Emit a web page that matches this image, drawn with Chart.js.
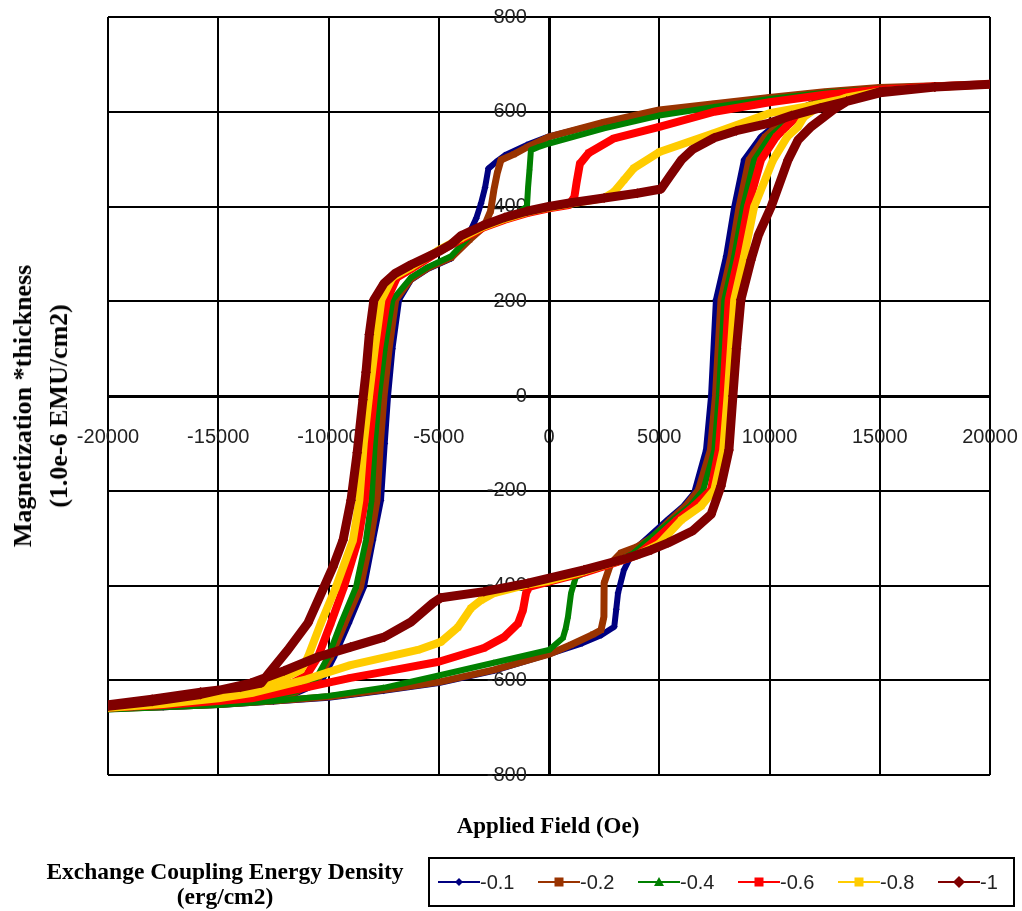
<!DOCTYPE html>
<html>
<head>
<meta charset="utf-8">
<script src="https://cdn.jsdelivr.net/npm/chart.js@4.4.1/dist/chart.umd.min.js"></script>
<style>
    body { margin: 0; background: #fff; }
    #holder { position: relative; width: 1022px; height: 911px; }
    #chart { position: absolute; left: 0; top: 0; }
    .title { position: absolute; font-family: 'Liberation Serif', 'Times New Roman', serif; font-weight: bold; color: #000; white-space: nowrap; text-align: center; }
    #xTitle { left: 548px; top: 826px; font-size: 23px; transform: translate(-50%, -50%); }
    #yTitle { left: 41px; top: 406px; font-size: 26px; line-height: 36px; transform: translate(-50%, -50%) rotate(-90deg); }
    #legendTitle { left: 225px; top: 884px; font-size: 23.5px; line-height: 25px; transform: translate(-50%, -50%); }
    #legendBox { position: absolute; left: 428px; top: 857px; width: 575px; height: 46px; border: 2px solid #000; display: flex; align-items: center; padding-left: 8px; box-sizing: content-box; }
    .entry { display: flex; align-items: center; width: 100px; font-family: 'Liberation Sans', Arial, sans-serif; font-size: 20px; color: #222; }
</style>
</head>
<body>
<div id="holder">
    <canvas id="chart" width="1022" height="911"></canvas>
    <div class="title" id="xTitle">Applied Field (Oe)</div>
    <div class="title" id="yTitle">Magnetization *thickness<br>(1.0e-6 EMU/cm2)</div>
    <div class="title" id="legendTitle">Exchange Coupling Energy Density<br>(erg/cm2)</div>
    <div id="legendBox"></div>
</div>
<script>
const seriesLabels = ['-0.1', '-0.2', '-0.4', '-0.6', '-0.8', '-1']

// each loop: field sweep down from +20000, then back up from -20000
const fieldLoop01 = [20000, 17500, 15000, 12500, 10000, 7500, 5000, 2500, 0, -1000, -2000, -2400, -2750, -2900, -3080, -3300, -3700, -4440, -5500, -6260, -6800, -7100, -7300, -7450, -7620, -7980, -8390, -9070, -9750, -10340, -11500, -13000, -15000, -17500, -20000,
    -20000, -17500, -15000, -12500, -10000, -7500, -5000, -2500, 0, 1500, 2360, 2960, 3050, 3130, 3400, 3850, 4500, 5400, 6100, 6580, 7120, 7350, 7570, 8030, 8400, 8840, 9610, 10160, 11000, 12500, 15000, 17500, 20000]
const momentLoop01 = [658, 655, 650, 641, 628, 614, 600, 577, 548, 530, 508, 494, 480, 440, 407, 375, 335, 290, 268, 245, 203, 100, 0, -100, -220, -304, -403, -479, -551, -604, -628, -642, -650, -655, -659,
    -660, -657, -652, -645, -637, -622, -606, -580, -545, -522, -505, -487, -450, -416, -367, -325, -298, -260, -232, -205, -114, 0, 203, 295, 399, 498, 547, 568, 600, 628, 648, 655, 658]

const fieldLoop02 = [20000, 17500, 15000, 12500, 10000, 7500, 5000, 2500, 0, -1000, -1600, -2180, -2350, -2500, -2650, -2950, -3600, -4440, -5500, -6260, -6950, -7250, -7480, -7650, -7800, -8100, -8550, -9250, -9900, -10500, -11500, -13000, -15000, -17500, -20000,
    -20000, -17500, -15000, -12500, -10000, -7500, -5000, -2500, 0, 1000, 2000, 2360, 2490, 2500, 2810, 3270, 4000, 4700, 5500, 6200, 6780, 7320, 7550, 7800, 8250, 8620, 9070, 9800, 10300, 11100, 12500, 15000, 17500, 20000]
const momentLoop02 = [658, 655, 651, 642, 630, 617, 604, 578, 547, 525, 510, 498, 470, 435, 390, 357, 330, 292, 270, 247, 203, 100, 0, -100, -220, -304, -403, -479, -551, -600, -625, -640, -649, -654, -658,
    -660, -656, -651, -644, -635, -620, -604, -578, -545, -525, -503, -494, -466, -395, -353, -331, -318, -298, -262, -232, -198, -114, 0, 203, 295, 399, 498, 547, 568, 600, 628, 648, 655, 658]

const fieldLoop04 = [20000, 17500, 15000, 12500, 10000, 7500, 5000, 2500, 0, -500, -820, -880, -950, -1000, -1500, -2500, -3500, -4440, -5500, -6260, -7100, -7450, -7710, -7900, -8050, -8300, -8750, -9430, -10020, -10600, -11500, -13000, -15000, -17500, -20000,
    -20000, -17500, -15000, -12500, -10000, -7500, -5000, -2500, 0, 630, 760, 860, 1000, 1220, 1800, 2800, 3800, 4600, 5600, 6400, 7000, 7500, 7700, 7950, 8400, 8800, 9300, 10000, 10520, 11300, 12700, 15000, 17500, 20000]
const momentLoop04 = [658, 654, 649, 640, 627, 610, 592, 565, 533, 525, 519, 480, 440, 400, 384, 366, 342, 295, 272, 250, 203, 100, 0, -100, -220, -304, -403, -479, -551, -600, -624, -640, -648, -654, -659,
    -662, -657, -652, -644, -633, -616, -590, -563, -536, -511, -490, -466, -416, -382, -370, -355, -333, -300, -262, -232, -198, -114, 0, 203, 295, 399, 498, 547, 568, 600, 628, 648, 655, 658]

const fieldLoop06 = [20000, 17500, 15000, 12500, 10000, 7500, 5000, 2950, 1800, 1400, 1250, 1150, 900, 0, -1000, -2000, -3000, -4000, -5000, -6260, -6900, -7350, -7700, -7940, -8150, -8350, -8660, -9300, -9890, -10480, -11000, -12000, -13500, -15000, -17500, -20000,
    -20000, -17500, -15000, -13500, -11000, -9000, -7000, -5000, -2950, -2040, -1400, -1180, -1040, -900, 0, 1590, 3000, 4000, 4800, 5800, 6600, 7350, 7700, 7900, 8150, 8600, 9020, 9610, 10300, 10750, 11500, 13000, 15000, 17500, 20000]
const momentLoop06 = [658, 653, 647, 636, 620, 600, 568, 544, 513, 490, 450, 420, 403, 396, 386, 372, 355, 330, 305, 268, 250, 203, 100, 0, -100, -220, -304, -403, -479, -551, -590, -615, -630, -640, -650, -657,
    -658, -652, -644, -638, -615, -595, -578, -561, -532, -509, -480, -452, -416, -403, -392, -373, -352, -336, -305, -262, -232, -198, -114, 0, 203, 295, 399, 498, 547, 568, 600, 628, 646, 654, 658]

const fieldLoop08 = [20000, 17500, 15000, 12000, 10000, 7500, 5000, 3850, 3400, 2950, 2500, 1000, 0, -1000, -2000, -3000, -4000, -5000, -6260, -7100, -7600, -7900, -8160, -8400, -8600, -8890, -9660, -10340, -10930, -11250, -12500, -14000, -16000, -18000, -20000,
    -20000, -17500, -15000, -13500, -11000, -9000, -5940, -4900, -4130, -3540, -3080, -2490, -1000, 0, 1590, 3000, 4000, 5000, 6000, 6900, 7500, 7900, 8100, 8400, 8850, 9300, 10160, 10800, 11290, 11560, 12200, 13500, 15000, 17500, 20000]
const momentLoop08 = [658, 652, 643, 614, 597, 555, 515, 481, 456, 431, 418, 406, 398, 388, 374, 357, 333, 308, 272, 250, 203, 100, 0, -100, -220, -304, -403, -479, -551, -578, -605, -622, -635, -646, -655,
    -658, -650, -638, -627, -598, -568, -536, -519, -488, -448, -431, -416, -398, -390, -370, -350, -336, -312, -262, -232, -198, -114, 0, 203, 295, 399, 498, 547, 568, 589, 610, 630, 643, 652, 658]

const fieldLoop10 = [20000, 17500, 15000, 13500, 12300, 11000, 10000, 8500, 7500, 6500, 6000, 5500, 5080, 4000, 2500, 1000, 0, -1000, -2000, -3000, -4000, -4440, -5000, -6260, -7000, -7480, -7940, -8150, -8300, -8440, -8700, -8980, -9340, -9800, -10200, -10930, -11840, -12700, -13060, -14000, -15800, -18000, -20000,
    -20000, -18000, -15800, -13510, -12000, -10480, -9000, -7480, -6260, -5260, -4900, -2950, -950, 1590, 3580, 4630, 5400, 6500, 7350, 7800, 8160, 8340, 8500, 8700, 9160, 9500, 10070, 10840, 11290, 11880, 12470, 12880, 13500, 15000, 17500, 20000]
const momentLoop10 = [658, 652, 640, 622, 608, 592, 576, 560, 545, 520, 498, 465, 437, 428, 418, 408, 400, 390, 377, 360, 338, 320, 305, 277, 258, 238, 203, 130, 50, -8, -120, -220, -304, -361, -403, -479, -536, -585, -606, -615, -625, -640, -652,
    -655, -645, -630, -606, -580, -551, -530, -509, -477, -437, -426, -413, -395, -367, -342, -325, -310, -285, -250, -190, -114, 0, 100, 203, 287, 340, 399, 498, 540, 568, 589, 604, 622, 642, 652, 658]

const xTickStep = 5000
const yTickStep = 200

const seriesFields = [fieldLoop01, fieldLoop02, fieldLoop04, fieldLoop06, fieldLoop08, fieldLoop10]
const seriesMoments = [momentLoop01, momentLoop02, momentLoop04, momentLoop06, momentLoop08, momentLoop10]
const seriesColors = ['#000080', '#993300', '#008000', '#ff0000', '#ffcc00', '#800000']
const seriesMarkers = ['rectRot', 'rect', 'triangle', 'rect', 'rect', 'rectRot']
const seriesWidths = [6, 7, 6, 8, 8, 9]

const TICK_FONT = { family: "'Liberation Sans', Arial, sans-serif", size: 20 }

function makeDataset(i){
    var points = []
    for (var j = 0; j < seriesFields[i].length; j++){
        points.push({ x: seriesFields[i][j], y: seriesMoments[i][j] })
    }
    return {
        label: seriesLabels[i],
        data: points,
        showLine: true,
        borderColor: seriesColors[i],
        backgroundColor: seriesColors[i],
        borderWidth: seriesWidths[i],
        borderJoinStyle: 'round',
        borderCapStyle: 'round',
        pointStyle: seriesMarkers[i],
        pointRadius: seriesWidths[i] / 2 + 0.5,
        pointBorderWidth: 0,
        tension: 0,
        order: seriesLabels.length - i
    }
}

var datasets = []
for (var i = 0; i < seriesLabels.length; i++){
    datasets.push(makeDataset(i))
}

// axes sit in the middle, so don't let label overhang shrink the plot
function noOverhang(scale){
    scale.paddingLeft = 0
    scale.paddingRight = 0
    scale.paddingTop = 0
    scale.paddingBottom = 0
}

new Chart(document.getElementById('chart').getContext('2d'), {
    type: 'scatter',
    data: { datasets: datasets },
    options: {
        responsive: false,
        animation: false,
        layout: { padding: { left: 108, right: 32, top: 17, bottom: 136 } },
        plugins: {
            legend: { display: false },
            tooltip: { enabled: false }
        },
        scales: {
            x: {
                type: 'linear',
                position: { y: 0 },
                min: -20000,
                max: 20000,
                afterFit: noOverhang,
                ticks: { stepSize: xTickStep, autoSkip: false, maxRotation: 0, color: '#222', font: TICK_FONT, padding: 22,
                    callback: (v) => v.toString() },
                grid: { color: '#000', lineWidth: 2, tickLength: 7 },
                border: { color: '#000', width: 3 }
            },
            y: {
                type: 'linear',
                position: { x: 0 },
                min: -800,
                max: 800,
                afterFit: noOverhang,
                ticks: { stepSize: yTickStep, color: '#222', font: TICK_FONT,
                    callback: (v) => v.toString() + '    ' },
                grid: { color: '#000', lineWidth: 2, tickLength: 7 },
                border: { color: '#000', width: 3 }
            }
        }
    }
});

// legend drawn as html, entries from the same series lists
function markerSvg(i){
    var c = seriesColors[i]
    var shape = ''
    if (seriesMarkers[i] == 'rectRot'){
        var r = i == 5 ? 6 : 4
        shape = `<polygon points="21,${7 - r} ${21 + r},7 21,${7 + r} ${21 - r},7" fill="${c}"/>`
    } else if (seriesMarkers[i] == 'triangle'){
        shape = `<polygon points="21,2 26,11 16,11" fill="${c}"/>`
    } else {
        shape = `<rect x="16.5" y="2.5" width="9" height="9" fill="${c}"/>`
    }
    return `<svg width="42" height="14"><line x1="0" y1="7" x2="42" y2="7" stroke="${c}" stroke-width="2"/>${shape}</svg>`
}

var legendBox = document.getElementById('legendBox')
for (var i = 0; i < seriesLabels.length; i++){
    var entry = document.createElement('div')
    entry.className = 'entry'
    if (i == seriesLabels.length - 1) entry.style.width = '60px'
    entry.innerHTML = markerSvg(i) + '<span>' + seriesLabels[i] + '</span>'
    legendBox.appendChild(entry)
}
</script>
</body>
</html>
